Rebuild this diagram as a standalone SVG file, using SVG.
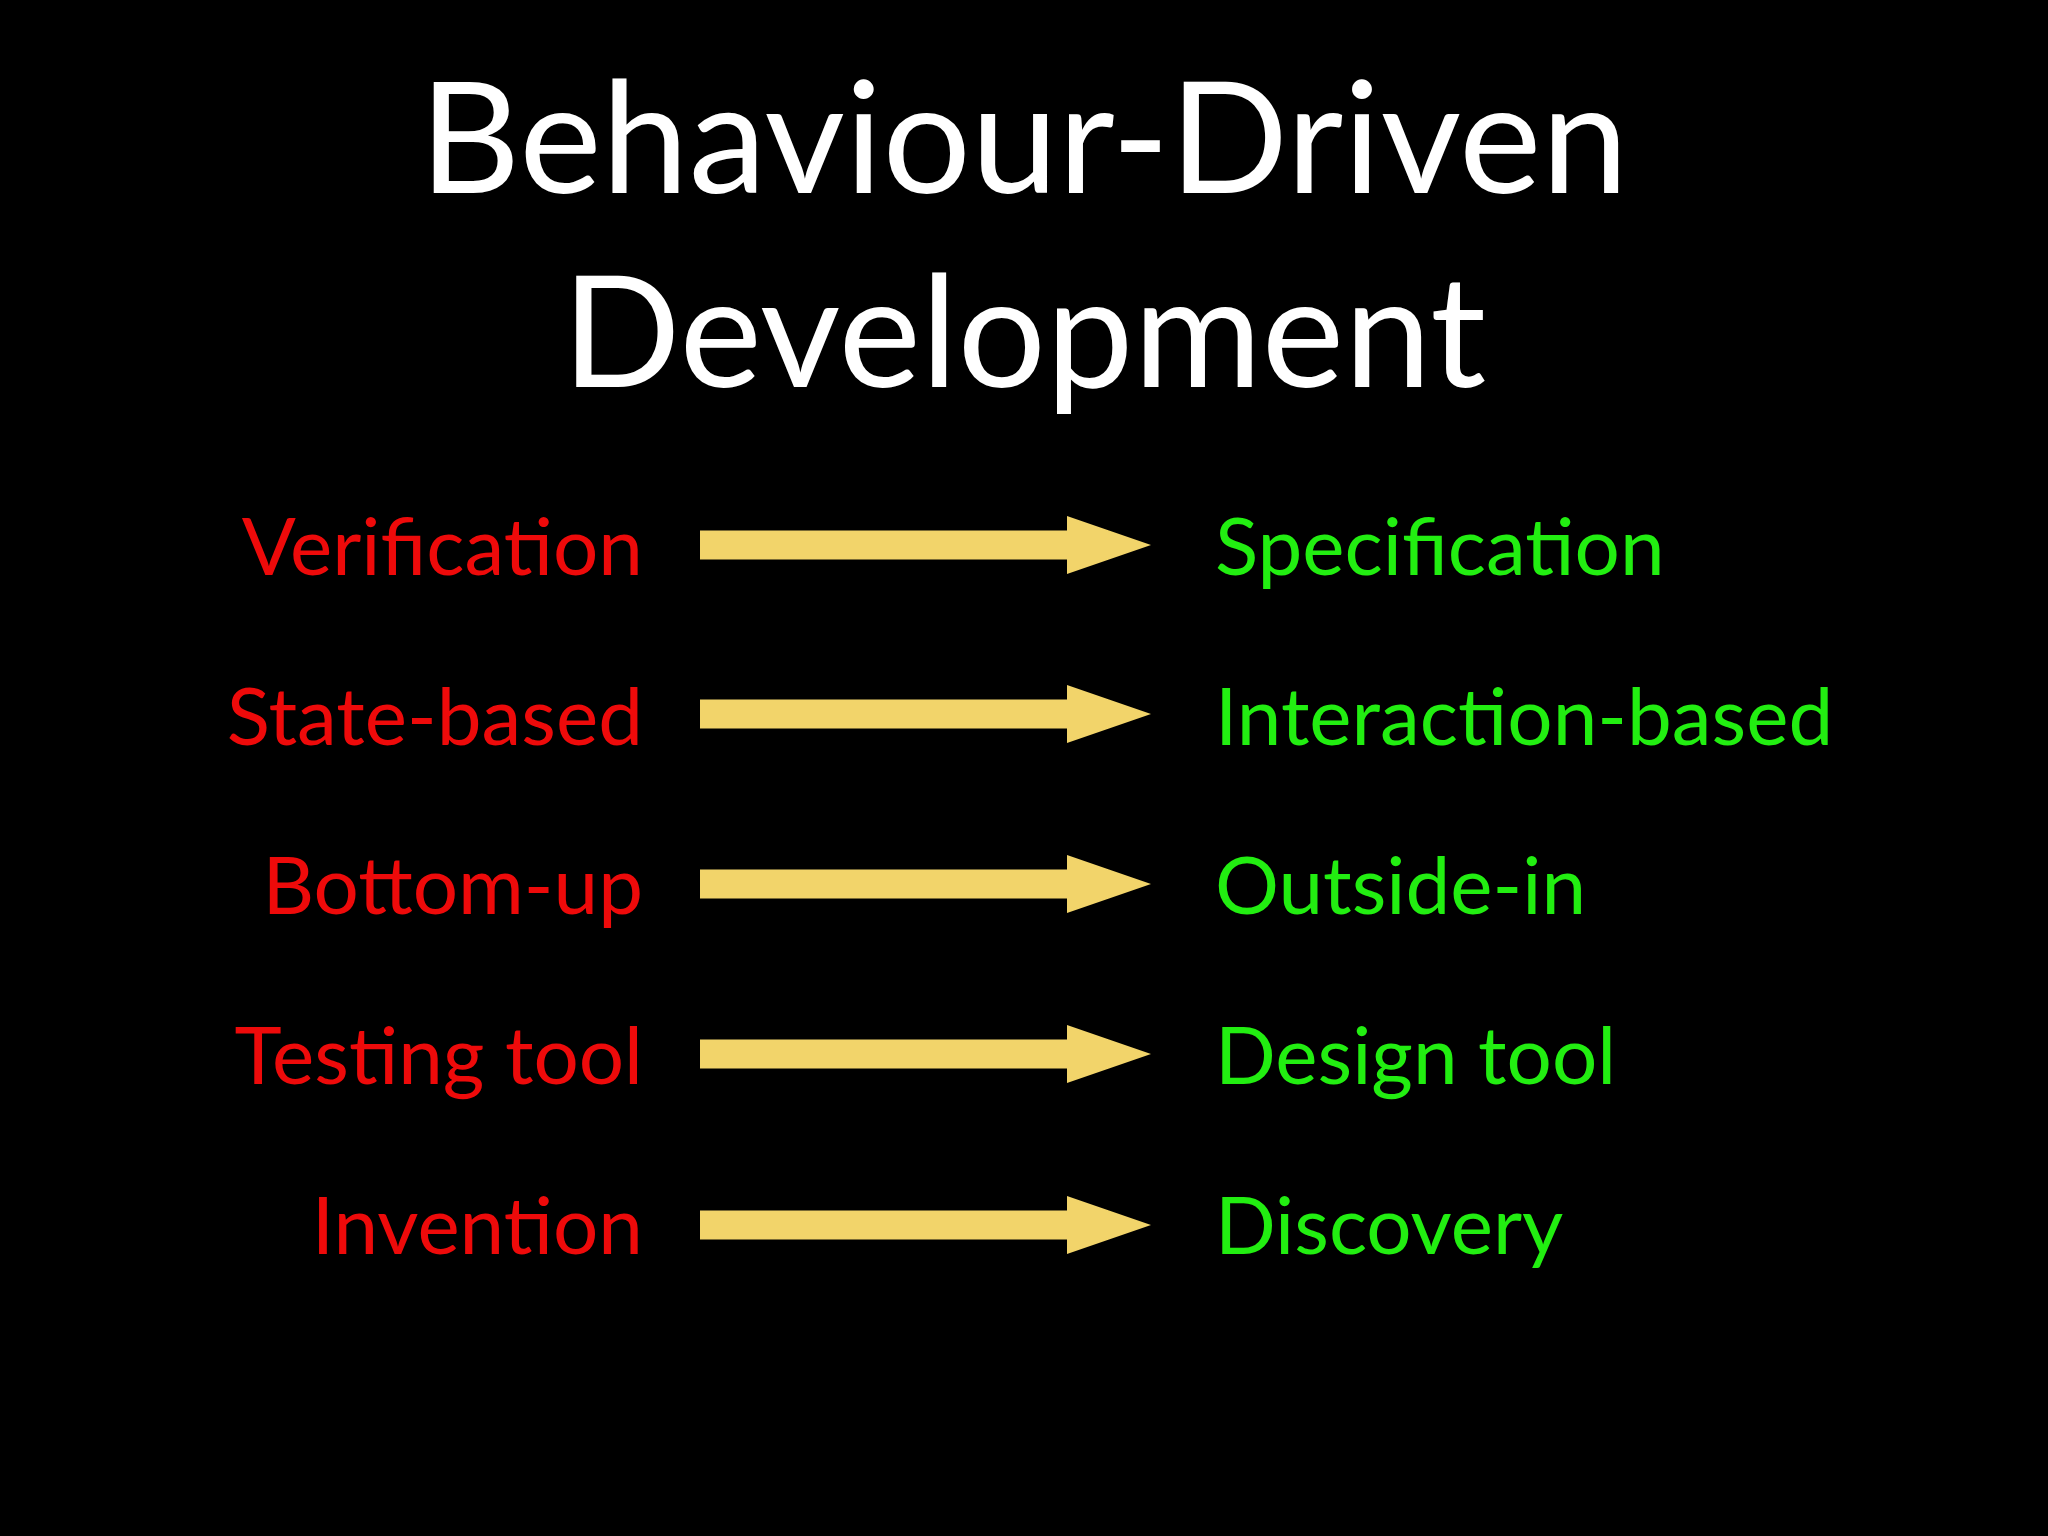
<svg xmlns="http://www.w3.org/2000/svg" width="2048" height="1536" viewBox="0 0 2048 1536">
<style>
.t{font-family:Lato,"Liberation Sans",sans-serif;fill:#fff;font-size:156px;text-anchor:middle}
.l{font-family:Lato,"Liberation Sans",sans-serif;fill:#ee0a0a;font-size:80px;text-anchor:end}
.r{font-family:Lato,"Liberation Sans",sans-serif;fill:#22ee11;font-size:80px}
.a{fill:#f2d46a}
</style>
<defs><path id="arr" class="a" d="M700,-14.5H1067V-29L1151,0L1067,29V14.5H700Z"/></defs>
<rect width="2048" height="1536" fill="#000"/>
<g id="title"><text class="t" x="1024" y="193">Behaviour-Driven</text><text class="t" x="1024" y="387">Development</text></g>
<g id="left">
<text class="l" x="643" y="575">Verification</text>
<text class="l" x="643" y="745">State-based</text>
<text class="l" x="643" y="914">Bottom-up</text>
<text class="l" x="643" y="1084">Testing tool</text>
<text class="l" x="643" y="1254">Invention</text>
</g>
<g id="right">
<text class="r" x="1215" y="575">Specification</text>
<text class="r" x="1215" y="745">Interaction-based</text>
<text class="r" x="1215" y="914">Outside-in</text>
<text class="r" x="1215" y="1084">Design tool</text>
<text class="r" x="1215" y="1254">Discovery</text>
</g>
<g id="connectors">
<use href="#arr" y="545"/><use href="#arr" y="714"/><use href="#arr" y="884"/><use href="#arr" y="1054"/><use href="#arr" y="1225"/>
</g>
</svg>
